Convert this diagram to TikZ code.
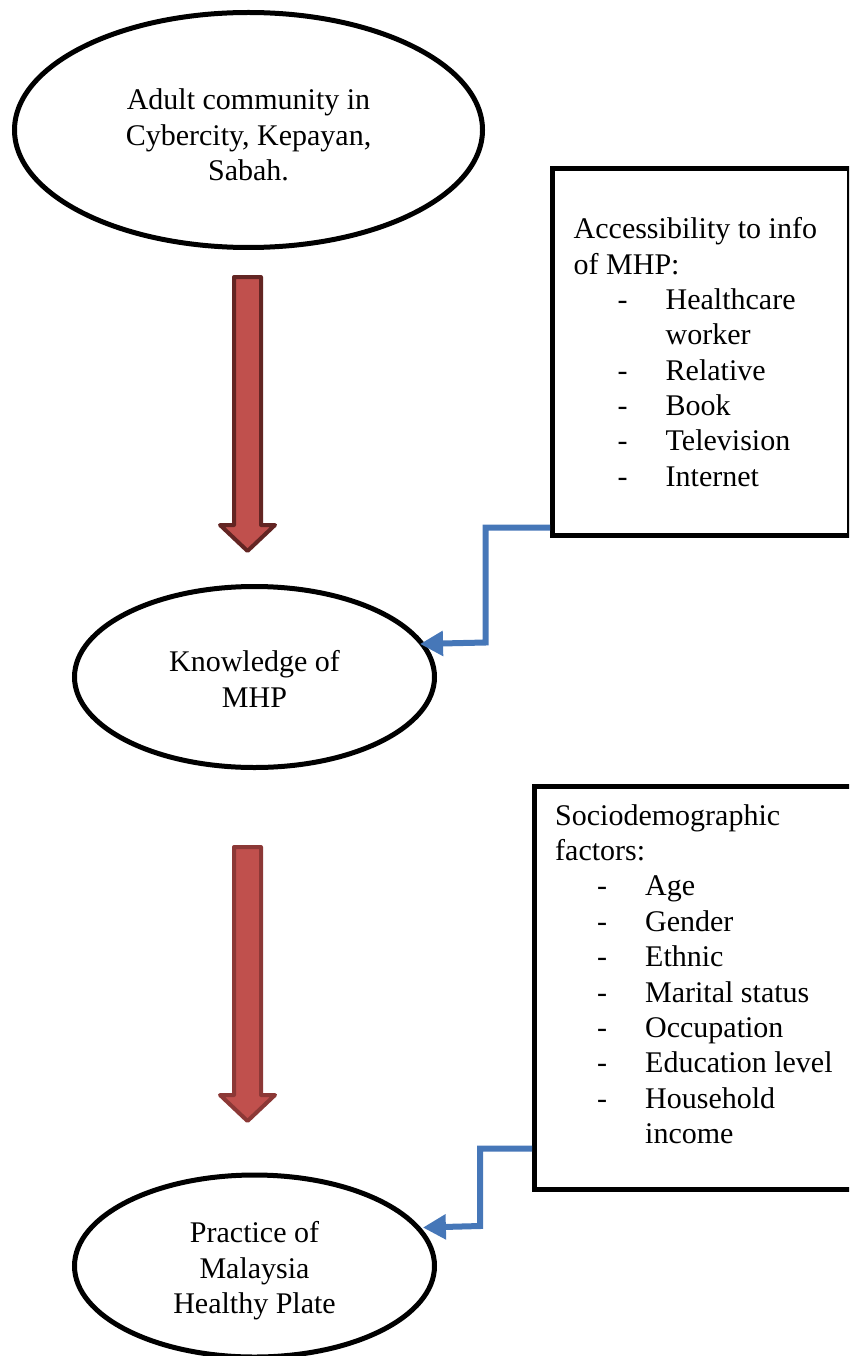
\documentclass[tikz,border=0pt]{standalone}
\usepackage{fontspec}
\setmainfont{Liberation Serif}
\usetikzlibrary{shapes.geometric,arrows.meta,calc}
\definecolor{redfill}{HTML}{C0504D}
\definecolor{redlineA}{HTML}{632523}
\definecolor{redlineB}{HTML}{8C3836}
\definecolor{conn}{HTML}{4677B8}
\newcommand\dashpre[2]{\makebox[#1][l]{\hspace{#2}-}}
\newcommand\bigarrowpath[2]{($(#1)+(-13.5,0)$) -- ($(#1)+(13.5,0)$) -- ($(#2)+(13.5,-26)$) -- ($(#2)+(27.5,-26)$) -- (#2) -- ($(#2)+(-27.5,-26)$) -- ($(#2)+(-13.5,-26)$) -- cycle}
\begin{document}
\begin{tikzpicture}[x=1pt,y=-1pt,
  txt/.style={font=\fontsize{30}{35.5}\selectfont},
  oval/.style={ellipse, draw, line width=5pt, inner sep=0pt},
  ovaltext/.style={txt, align=center, inner sep=0pt},
  infobox/.style={rectangle, draw, line width=5pt, inner sep=0pt},
  boxline/.style={font=\fontsize{30}{35}\selectfont, anchor=base west, inner sep=0pt},
  bigarrow/.style={fill=redfill, line width=4pt, line join=round},
  blueconn/.style={draw=conn, line width=6pt, -{Triangle[length=23pt,width=24pt]}}]
\useasboundingbox (0,0) rectangle (849,1356);
\clip (0,0) rectangle (849,1356);

% ellipses
\node[oval, minimum width=468pt, minimum height=235pt] (e1) at (248.5,130) {};
\node[ovaltext] (e1t) at (248.5,135) {Adult community in\\Cybercity, Kepayan,\\Sabah.};
\node[oval, minimum width=360pt, minimum height=181pt] (e2) at (254.5,677) {};
\node[ovaltext] (e2t) at (254.5,679) {Knowledge of\\MHP};
\node[oval, minimum width=360pt, minimum height=182pt] (e3) at (254.5,1266) {};
\node[ovaltext] (e3t) at (254.5,1271) {Practice of\\Malaysia\\Healthy Plate};

% boxes
\node[infobox, minimum width=297pt, minimum height=367pt] (b1) at (701,352) {};
\node[infobox, minimum width=345.5pt, minimum height=403pt] (b2) at (707.25,988) {};

% box texts
\foreach \t [count=\i from 0] in {Accessibility to info, of MHP:, \dashpre{92pt}{44pt}Healthcare, \hspace*{92pt}worker, \dashpre{92pt}{44pt}Relative, \dashpre{92pt}{44pt}Book, \dashpre{92pt}{44pt}Television, \dashpre{92pt}{44pt}Internet}
  \node[boxline] (ba\i) at (573.5, 239+35.3*\i) {\t};
\foreach \t [count=\i from 0] in {Sociodemographic, factors:, \dashpre{90pt}{42pt}Age, \dashpre{90pt}{42pt}Gender, \dashpre{90pt}{42pt}Ethnic, \dashpre{90pt}{42pt}Marital status, \dashpre{90pt}{42pt}Occupation, \dashpre{90pt}{42pt}Education level, \dashpre{90pt}{42pt}Household, \hspace*{90pt}income}
  \node[boxline] (bb\i) at (555, 825+35.4*\i) {\t};

% big red arrows
\coordinate (r1a) at (247.5,277);
\coordinate (r1b) at (247.5,551);
\coordinate (r2a) at (247.5,847);
\coordinate (r2b) at (247.5,1121);
\draw[bigarrow, draw=redlineA] \bigarrowpath{r1a}{r1b};
\draw[bigarrow, draw=redlineB] \bigarrowpath{r2a}{r2b};

% blue connectors
\coordinate (k1) at (485.5,642.5);
\coordinate (k2) at (480,1226);
\draw[blueconn, shorten >=-5pt] ([yshift=10.5pt]b1.south west) -| (k1) -- (e2.11.7);
\draw[blueconn, shorten >=2pt] ([yshift=43.5pt]b2.south west) -| (k2) -- (e3.13.5);
\end{tikzpicture}
\end{document}
